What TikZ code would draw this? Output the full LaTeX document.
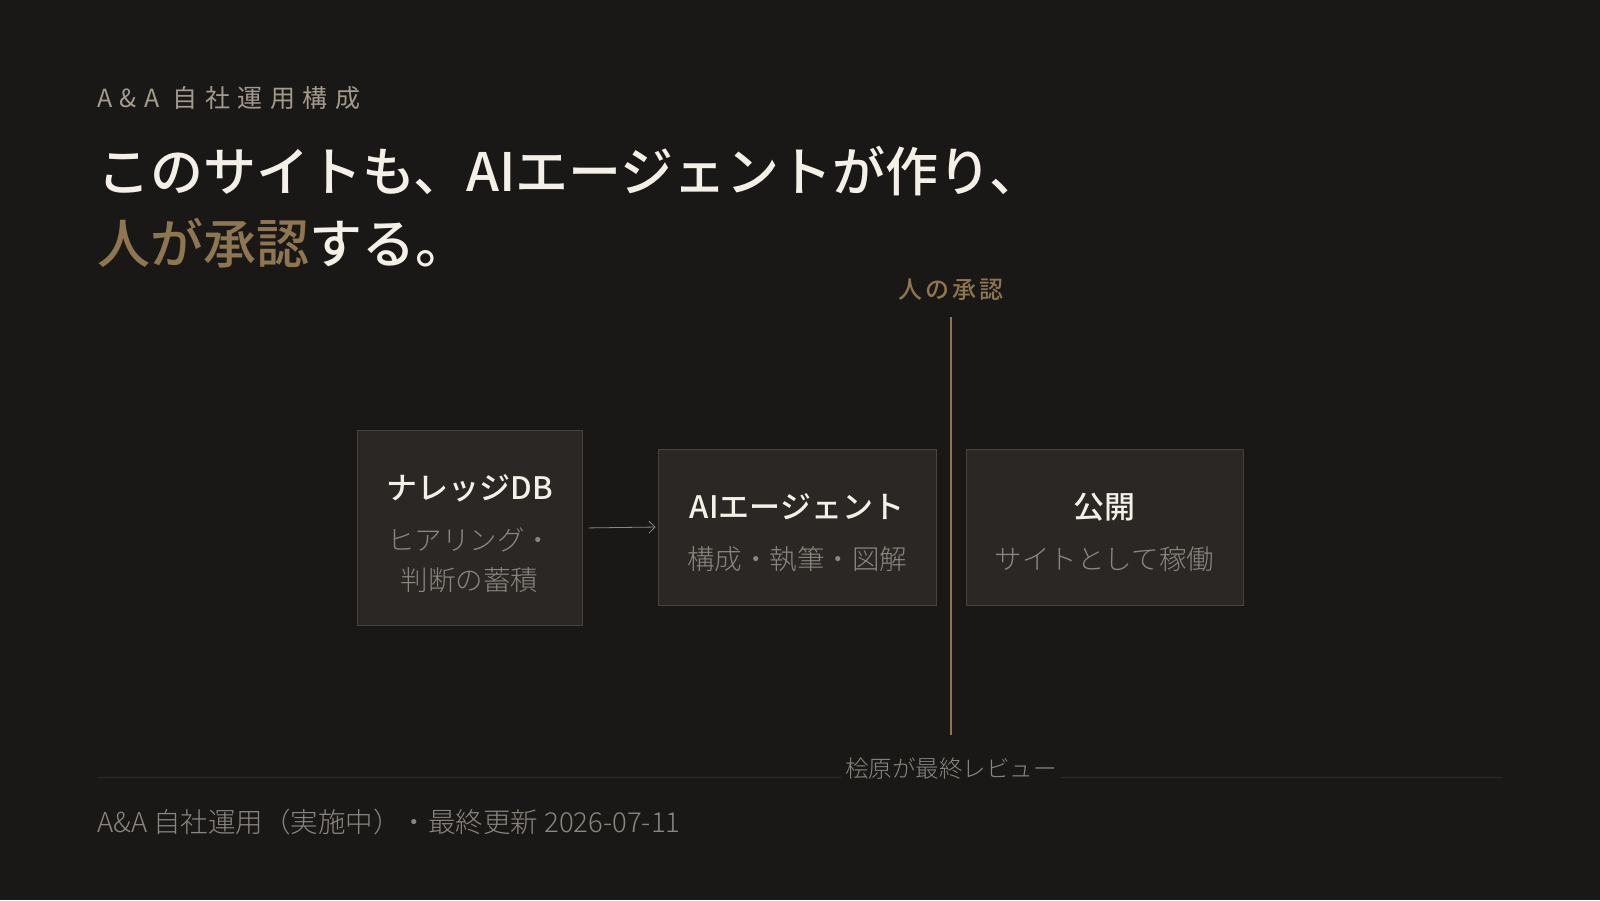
\documentclass[tikz,border=0pt]{standalone}
\usepackage{fontspec}
\setmainfont{Noto Sans CJK JP}[BoldFont={Noto Sans CJK JP Medium}]
\newfontfamily\lightfont{Noto Sans CJK JP Light}
\usetikzlibrary{positioning,arrows.meta}

\definecolor{bg}{HTML}{1A1817}
\definecolor{ink}{HTML}{F4F0E8}
\definecolor{gold}{HTML}{8E7651}
\definecolor{muted}{HTML}{8A857F}
\definecolor{kicker}{HTML}{A39A8E}
\definecolor{boxfill}{HTML}{2A2724}
\definecolor{boxline}{HTML}{47433F}
\definecolor{rule}{HTML}{2E2B29}

\tikzset{
  plain/.style={inner sep=0pt, anchor=west},
  stagebox/.style={draw=boxline, fill=boxfill, line width=1pt, align=center,
    inner sep=0pt, text=muted, font=\lightfont\fontsize{27.5}{40}\selectfont},
  flow/.style={draw=muted, line width=0.8pt, -{Straight Barb[length=6pt,width=12pt]},
    shorten <=6pt, shorten >=2pt},
  gate/.style={draw=gold, line width=1.6pt}
}

\newcommand{\stagetitle}[1]{{\rule{0pt}{36pt}\color{ink}\normalfont\bfseries\fontsize{31}{40}\selectfont #1}}

\begin{document}
\begin{tikzpicture}[x=1pt,y=-1pt]
% Background
\fill[bg] (0,0) rectangle (1600,900);
\useasboundingbox (0,0) rectangle (1600,900);

% Heading
\node[plain, text=kicker, font=\fontsize{25}{30}\selectfont\addfontfeature{LetterSpace=30}]
  (kicker) at (97,98) {A\&A 自社運用構成};
\node[plain, text=ink, font=\bfseries\fontsize{53}{60}\selectfont]
  (headline) at (97,171) {このサイトも、AIエージェントが作り、};
\node[plain, text=ink, font=\bfseries\fontsize{53}{60}\selectfont]
  (headline2) at (97,243) {\textcolor{gold}{人が承認}する。};

% Stages
\node[stagebox, minimum width=225pt, minimum height=195pt] (db) at (469.5,528)
  {\stagetitle{ナレッジDB}\\[11pt]ヒアリング・\\判断の蓄積};
\node[stagebox, minimum width=278pt, minimum height=156pt] (agent) at (797,527)
  {\stagetitle{AIエージェント}\\[11pt]構成・執筆・図解};
\node[stagebox, minimum width=277pt, minimum height=156pt] (pub) at (1104.5,527)
  {\stagetitle{公開}\\[11pt]サイトとして稼働};

\draw[flow] (db.east) -- (agent.west);

% Approval gate
\node[text=gold, font=\bfseries\fontsize{24}{30}\selectfont\addfontfeature{LetterSpace=12}]
  (approval) at (951,290) {人の承認};

% Footer
\draw[rule, line width=1pt] (97,777) -- (1503,777);
\node[fill=bg, text=muted, inner sep=4pt, font=\lightfont\fontsize{23.5}{28}\selectfont]
  (review) at (951,769) {桧原が最終レビュー};
\draw[gate] (approval.south) ++(0,13) coordinate (gateTop) -- (gateTop |- 0,735) coordinate (gateBot);
\node[plain, text=muted, font=\lightfont\fontsize{27.5}{32}\selectfont]
  (footer) at (97,822) {A\&A 自社運用（実施中）・最終更新 2026-07-11};
\end{tikzpicture}
\end{document}
